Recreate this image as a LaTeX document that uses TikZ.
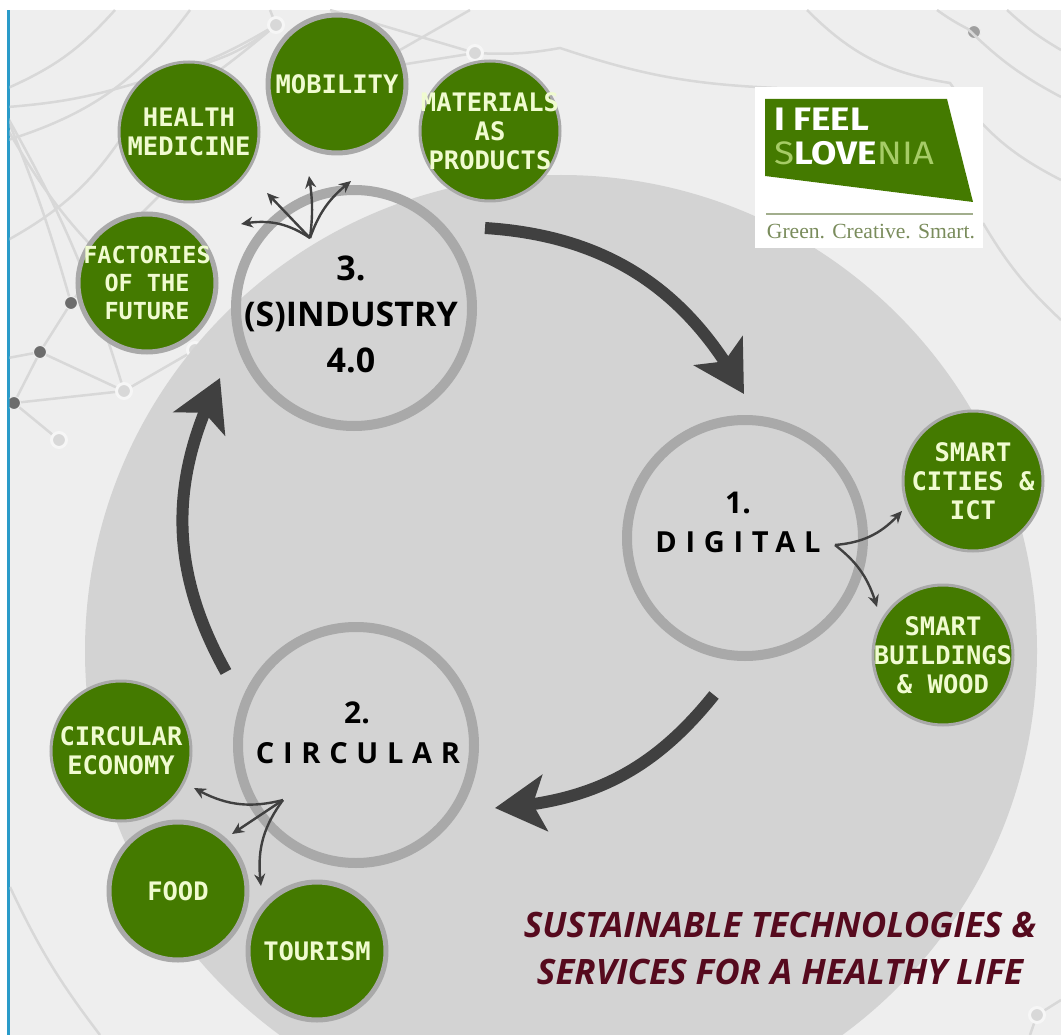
\documentclass[tikz,border=0pt]{standalone}
\usepackage{fontspec}
\usepackage{xcolor}
\usetikzlibrary{arrows.meta,bending}
\newfontfamily\bubblefont{DejaVu Sans Mono}
\newfontfamily\ringfont{Open Sans}
\newfontfamily\ringspaced[LetterSpace=30]{Open Sans}
\newfontfamily\logofont[FakeStretch=1.13]{Fira Sans}
\newfontfamily\claimfont{Liberation Serif}
\definecolor{bubblegreen}{HTML}{447A00}
\definecolor{bubbletext}{HTML}{F0FBD0}
\definecolor{pagegrey}{HTML}{EEEEEE}
\definecolor{discgrey}{HTML}{D3D3D3}
\definecolor{ringgrey}{HTML}{A9A9A9}
\definecolor{netgrey}{HTML}{D8D8D8}
\definecolor{arrowgrey}{HTML}{404040}
\definecolor{titlered}{HTML}{560A1E}
\definecolor{logolight}{HTML}{A6CC66}
\definecolor{claimgreen}{HTML}{7A8C5C}
\begin{document}
\begin{tikzpicture}[x=1pt,y=-1pt]
        \tikzset{bubble/.style={circle,draw=ringgrey,line width=3pt,fill=bubblegreen,
                minimum size=140pt,inner sep=-40pt,align=center,text=bubbletext,
                font=\bubblefont\bfseries\fontsize{25.5}{29}\selectfont},
            thickrim/.style={line width=5pt,minimum size=138pt},
            ring/.style={circle,draw=ringgrey,line width=10pt,minimum size=236pt,inner sep=0pt},
            ringlabel/.style={align=center,inner sep=0pt,text=black,
                font=\ringfont\bfseries\fontsize{34}{46}\selectfont},
            ringnumber/.style={inner sep=0pt,text=black,
                font=\ringfont\bfseries\fontsize{30}{32}\selectfont},
            ringword/.style={inner sep=0pt,text=black,
                font=\ringspaced\bfseries\fontsize{29}{32}\selectfont},
            bigarrow/.style={draw=arrowgrey,line width=12pt,
                -{Stealth[length=50pt,width=56pt,inset=12pt,flex=1]}},
            twig/.style={draw=arrowgrey,line width=2.4pt,
                -{Stealth[length=12pt,width=11pt,flex=1]}},
            netline/.style={draw=netgrey,line width=2.5pt},
            darkdot/.style={circle,fill=gray!85!black,draw=pagegrey,line width=1pt,minimum size=13pt,inner sep=0pt},
            palering/.style={circle,fill=netgrey,draw=pagegrey!50!white,line width=3pt,minimum size=15pt,inner sep=0pt}}
        \useasboundingbox (0,0) rectangle (1061,1035);
        \fill[white] (0,0) rectangle (1061,1035);
        \fill[pagegrey] (9,10) rectangle (1061,1035);
        \fill[cyan!60!teal] (7,10) rectangle (9.5,1035);
        \begin{scope}
            \clip (9.5,10) rectangle (1061,1035);
            \node[darkdot] (dotA) at (71,303) {};
            \node[darkdot] (dotB) at (40,352) {};
            \node[darkdot] (dotC) at (14,403) {};
            \node[palering] (dotD) at (124,391) {};
            \node[palering] (dotE) at (59,440) {};
            \node[palering] (dotF) at (195,350) {};
            \node[palering] (dotG) at (276,25) {};
            \node[palering] (dotH) at (475,53) {};
            \node[darkdot,fill=gray!75] (dotI) at (974,32) {};
            \node[palering] (dotJ) at (1037,1015) {};
            \draw[netline] (8,88) to[bend right=12] (115,10);
            \draw[netline] (8,140) to[bend right=18] (190,10);
            \draw[netline] (8,107) to[bend right=6] (140,82) to[bend right=8] (dotG);
            \draw[netline] (8,240) to[bend right=14] (130,125) to[bend right=6] (dotG);
            \draw[netline] (8,120) to[bend left=3] (dotA);
            \draw[netline] (8,118) to[bend left=6] (dotD);
            \draw[netline] (8,130) to[bend right=10] (150,300);
            \draw[netline] (dotA) -- (dotB) -- (dotC) -- (dotD) -- (dotB);
            \draw[netline] (dotC) -- (dotE);
            \draw[netline] (8,358) -- (dotB);
            \draw[netline] (dotA) -- (135,215);
            \draw[netline] (140,215) -- (165,190);
            \draw[netline] (dotG) -- (270,10);
            \draw[netline] (dotG) to[bend left=10] (200,65);
            \draw[netline] (dotF) -- (dotD);
            \draw[netline] (330,10) -- (dotH);
            \draw[netline] (400,65) -- (dotH);
            \draw[netline] (470,10) -- (400,50);
            \draw[netline] (dotH) to[bend right=6] (560,48) to[bend right=8] (777,88);
            \draw[netline] (807,10) to[bend right=18] (950,83) to[bend right=14] (1061,180);
            \draw[netline] (937,10) to[bend right=4] (dotI) to[bend right=8] (1061,97);
            \draw[netline] (1007,10) to[bend right=6] (1061,50);
            \draw[netline] (983,223) to[bend right=8] (1061,320);
            \draw[netline] (10,887) to[bend right=6] (100,1035);
            \draw[netline] (dotJ) -- (1061,1000);
            \draw[netline] (dotJ) -- (1030,1035);
            \fill[discgrey] (561,651) circle (476);
        \end{scope}
        \node[ring] (ringindustry) at (354,308) {};
        \node[ring] (ringdigital) at (745,538) {};
        \node[ring] (ringcircular) at (356,745) {};
        \node[ringlabel] (lblindustry) at (351,314) {3.\\(S)INDUSTRY\\4.0};
        \node[ringnumber] (lbldigitalnum) at (738,503) {1.};
        \node[ringword] (lbldigital) at (738,542) {DIGITAL};
        \node[ringnumber] (lblcircularnum) at (357,713) {2.};
        \node[ringword] (lblcircular) at (358,753) {CIRCULAR};
        \node[bubble] (health) at (189,132) {HEALTH\\MEDICINE};
        \node[bubble,thickrim] (mobility) at (337,84) {MOBILITY};
        \node[bubble] (materials) at (490,131) {MATERIALS\\AS\\PRODUCTS};
        \node[bubble,thickrim,font=\bubblefont\bfseries\fontsize{23.5}{28}\selectfont] (factories) at (147,283) {FACTORIES\\OF THE\\FUTURE};
        \node[bubble] (cities) at (973,481) {SMART\\CITIES \&\\ICT};
        \node[bubble] (buildings) at (943,655) {SMART\\BUILDINGS\\\& WOOD};
        \node[bubble] (economy) at (121,751) {CIRCULAR\\ECONOMY};
        \node[bubble,thickrim] (food) at (178,891) {FOOD};
        \node[bubble,thickrim] (tourism) at (317,951) {TOURISM};
        \coordinate (arrowstartA) at (485,228);
        \coordinate (arrowtipA) at (744,394);
        \coordinate (arrowstartB) at (714,695);
        \coordinate (arrowtipB) at (495,808);
        \coordinate (arrowstartC) at (226,672);
        \coordinate (arrowtipC) at (220,378);
        \draw[bigarrow] (arrowstartA) to[bend left=29] (arrowtipA);
        \draw[bigarrow] (arrowstartB) to[bend left=24] (arrowtipB);
        \draw[bigarrow] (arrowstartC) to[bend left=28] (arrowtipC);
        \coordinate (forkindustry) at (310,238);
        \coordinate (forkdigital) at (835,545);
        \coordinate (forkcircular) at (283,800);
        \coordinate (tipfactories) at (241,224);
        \coordinate (tiphealth) at (267,193);
        \coordinate (tipmobility) at (309,176);
        \coordinate (tipmaterials) at (351,181);
        \coordinate (tipcities) at (902,511);
        \coordinate (tipbuildings) at (877,607);
        \coordinate (tipeconomy) at (194,788);
        \coordinate (tipfood) at (232,834);
        \coordinate (tiptourism) at (261,886);
        \draw[twig] (forkindustry) to[bend right=22] (tipfactories);
        \draw[twig] (forkindustry) -- (tiphealth);
        \draw[twig] (forkindustry) to[bend right=8] (tipmobility);
        \draw[twig] (forkindustry) to[bend left=16] (tipmaterials);
        \draw[twig] (forkdigital) to[bend right=22] (tipcities);
        \draw[twig] (forkdigital) to[bend left=18] (tipbuildings);
        \draw[twig] (forkcircular) to[bend left=22] (tipeconomy);
        \draw[twig] (forkcircular) -- (tipfood);
        \draw[twig] (forkcircular) to[bend right=22] (tiptourism);
        \node[inner sep=0pt,align=center,text=titlered,
            font=\ringfont\bfseries\itshape\fontsize{35}{47}\selectfont] (title) at (780,948)
            {SUSTAINABLE TECHNOLOGIES \&\\SERVICES FOR A HEALTHY LIFE};
        \fill[white] (755,87) rectangle (983,248);
        \fill[bubblegreen] (765,99) -- (947,99) -- (973,202) -- (765,176) -- cycle;
        \node[inner sep=0pt,anchor=west,align=left,text=logolight,
            font=\logofont\fontsize{32.5}{34}\selectfont] (logoname) at (774,137)
            {{\bfseries\color{white}I FEEL}\\S{\bfseries\color{white}LOVE}NIA};
        \draw[claimgreen!70,line width=1.2pt] (766,214) -- (973,214);
        \node[inner sep=0pt,text=claimgreen,
            font=\claimfont\fontsize{21.6}{23}\selectfont] (logoclaim) at (871,232)
            {Green. Creative. Smart.};
\end{tikzpicture}
\end{document}
